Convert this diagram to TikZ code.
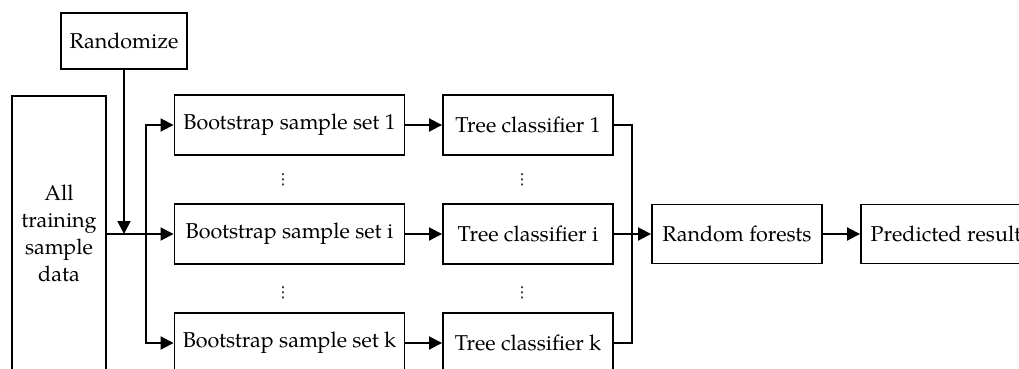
\documentclass[tikz,border=0pt]{standalone}
\usepackage{fontspec}
\setmainfont{TeX Gyre Pagella}
\newfontfamily\symfont{DejaVu Sans}
\usetikzlibrary{arrows.meta}
\begin{document}
\begin{tikzpicture}[x=1pt,y=-1pt,
  line width=1.9pt,
  box/.style={draw, line width=1.9pt, inner sep=0pt, align=center,
    font=\fontsize{21.5}{27}\selectfont},
  arr/.style={-{Triangle[length=13pt,width=13pt]}},
  wire/.style={line width=1.9pt},
  vdotsnode/.style={inner sep=0pt, font=\symfont\fontsize{15}{15}\selectfont}]
  \useasboundingbox (0,0) rectangle (1019,368);
  \clip (0,0) rectangle (1019,368);

  % source and randomiser
  \node[box, minimum width=126pt, minimum height=56pt] (rand) at (124,41) {Randomize};
  \node[box, minimum width=94pt, minimum height=274pt] (all) at (59,233) {All\\training\\sample\\data};

  % bootstrap sample sets
  \node[box, minimum width=230pt, minimum height=60pt] (b1) at (289.5,125) {Bootstrap sample set 1};
  \node[box, minimum width=230pt, minimum height=60pt] (bi) at (289.5,234) {Bootstrap sample set i};
  \node[box, minimum width=230pt, minimum height=60pt] (bk) at (289.5,343) {Bootstrap sample set k};

  % tree classifiers
  \node[box, minimum width=170pt, minimum height=60pt] (t1) at (528,125) {Tree classifier 1};
  \node[box, minimum width=170pt, minimum height=60pt] (ti) at (528,234) {Tree classifier i};
  \node[box, minimum width=170pt, minimum height=60pt] (tk) at (528,343) {Tree classifier k};

  % ellipses between rows
  \node[vdotsnode] (d1) at (283,180) {⋮};
  \node[vdotsnode] (d2) at (283,293) {⋮};
  \node[vdotsnode] (d3) at (522,180) {⋮};
  \node[vdotsnode] (d4) at (522,293) {⋮};

  % ensemble and output
  \node[box, minimum width=170pt, minimum height=59pt] (rf) at (737,234) {Random forests};
  \node[box, minimum width=170pt, minimum height=59pt] (pr) at (946,234) {Predicted result};

  % distribution of the training data
  \coordinate (split) at (146,234);
  \coordinate (join) at (632,234);
  \draw[wire] (all.east |- split) -- (split);
  \draw[arr] (split) -- (bi.west);
  \draw[arr] (split) |- (b1.west);
  \draw[arr] (split) |- (bk.west);
  \draw[arr] (rand.south) -- (rand.south |- split);

  % bootstrap sets to trees
  \draw[arr] (b1.east) -- (t1.west);
  \draw[arr] (bi.east) -- (ti.west);
  \draw[arr] (bk.east) -- (tk.west);

  % votes collected into the forest
  \draw[wire] (t1.east) -| (join);
  \draw[wire] (tk.east) -| (join);
  \draw[arr] (ti.east) -- (rf.west);
  \draw[arr] (rf.east) -- (pr.west);
\end{tikzpicture}
\end{document}
